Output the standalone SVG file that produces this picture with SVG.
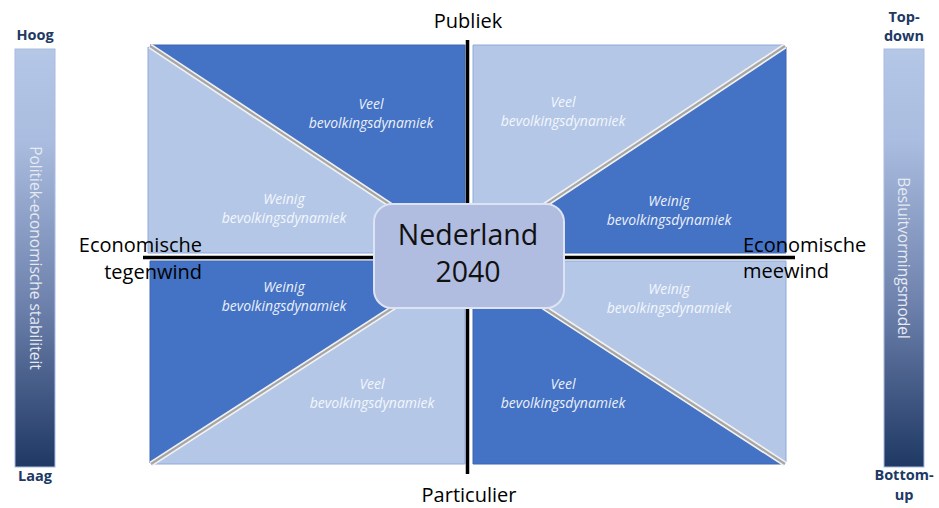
<svg xmlns="http://www.w3.org/2000/svg" width="939" height="508" viewBox="0 0 939 508">
<defs>
<linearGradient id="barGrad" x1="0" y1="0" x2="0" y2="1">
<stop offset="0" stop-color="#B4C7E7"/>
<stop offset="0.22" stop-color="#AABCDF"/>
<stop offset="0.6" stop-color="#6F83AE"/>
<stop offset="1" stop-color="#1F3864"/>
</linearGradient>
<style>
.dark{fill:#4472C4;stroke:#3E67B2;stroke-width:1}
.light{fill:#B4C7E7;stroke:#8FAADC;stroke-width:1}
.diagW{stroke:#F2F2F2;stroke-width:5.5;stroke-linecap:butt}
.diagG{stroke:#A6A6A6;stroke-width:2.2}
.axis{stroke:#000;stroke-width:3.5}
.lbl{font-family:"Open Sans","Liberation Sans",sans-serif;font-size:20px;fill:#000}
.it{font-family:"Open Sans","Liberation Sans",sans-serif;font-size:14px;font-style:italic;text-anchor:middle}
.itD{fill:#EBF0F9}
.itL{fill:#F3F6FC}
.bar{fill:url(#barGrad);stroke:#A9BCE0;stroke-width:1}
.barLbl{font-family:"Open Sans","Liberation Sans",sans-serif;font-size:14.5px;font-weight:bold;fill:#203864;text-anchor:middle}
.barTxt{font-family:"Open Sans","Liberation Sans",sans-serif;font-size:15.5px;fill:#E4E9F2;text-anchor:middle}
.node{fill:#B0BCE0;stroke:#DCE3F2;stroke-width:2}
.nodeTxt{font-family:"Open Sans","Liberation Sans",sans-serif;font-size:28.5px;fill:#111;text-anchor:middle}
</style>
</defs>
<rect width="939" height="508" fill="#FFFFFF"/>

<g id="scale-left">
<rect class="bar" x="15" y="49" width="40" height="418"/>
<text class="barLbl" x="35" y="40">Hoog</text>
<text class="barLbl" x="35" y="481">Laag</text>
<text class="barTxt" transform="translate(30,258) rotate(90)">Politiek-economische stabiliteit</text>
</g>

<g id="scale-right">
<rect class="bar" x="884" y="49" width="40" height="418"/>
<text class="barLbl" x="904" y="22">Top-</text>
<text class="barLbl" x="904" y="41">down</text>
<text class="barLbl" x="904" y="480">Bottom-</text>
<text class="barLbl" x="904" y="500">up</text>
<text class="barTxt" transform="translate(898,258) rotate(90)">Besluitvormingsmodel</text>
</g>

<g id="quadrant-tl">
<polygon class="light" points="148,47 148,253 465,253"/>
<polygon class="dark" points="150,45 465,45 465,253"/>
<line class="diagW" x1="150" y1="46" x2="463" y2="253"/>
<line class="diagG" x1="150" y1="46" x2="463" y2="253"/>
<text class="it itD" x="371" y="109">Veel</text>
<text class="it itD" x="371" y="128">bevolkingsdynamiek</text>
<text class="it itL" x="284" y="204">Weinig</text>
<text class="it itL" x="284" y="223">bevolkingsdynamiek</text>
</g>

<g id="quadrant-tr">
<polygon class="dark" points="786,47 786,253 473,253"/>
<polygon class="light" points="473,45 784,45 473,253"/>
<line class="diagW" x1="474" y1="252" x2="785" y2="46"/>
<line class="diagG" x1="474" y1="252" x2="785" y2="46"/>
<text class="it itL" x="563" y="107">Veel</text>
<text class="it itL" x="563" y="126">bevolkingsdynamiek</text>
<text class="it itD" x="669" y="206">Weinig</text>
<text class="it itD" x="669" y="225">bevolkingsdynamiek</text>
</g>

<g id="quadrant-bl">
<polygon class="light" points="465,261 465,464 151,464"/>
<polygon class="dark" points="150,261 465,261 150,463"/>
<line class="diagW" x1="464" y1="262" x2="151" y2="464"/>
<line class="diagG" x1="464" y1="262" x2="151" y2="464"/>
<text class="it itD" x="284" y="292">Weinig</text>
<text class="it itD" x="284" y="311">bevolkingsdynamiek</text>
<text class="it itL" x="372" y="389">Veel</text>
<text class="it itL" x="372" y="408">bevolkingsdynamiek</text>
</g>

<g id="quadrant-br">
<polygon class="dark" points="473,261 473,464 784,464"/>
<polygon class="light" points="473,261 786,261 786,462"/>
<line class="diagW" x1="474" y1="262" x2="785" y2="464"/>
<line class="diagG" x1="474" y1="262" x2="785" y2="464"/>
<text class="it itL" x="669" y="294">Weinig</text>
<text class="it itL" x="669" y="313">bevolkingsdynamiek</text>
<text class="it itD" x="563" y="389">Veel</text>
<text class="it itD" x="563" y="408">bevolkingsdynamiek</text>
</g>

<g id="connectors">
<line class="axis" x1="467.5" y1="40" x2="467.5" y2="474"/>
<line class="axis" x1="143" y1="257.5" x2="795" y2="257.5"/>
</g>

<g id="axis-labels">
<text class="lbl" x="468" y="28" text-anchor="middle">Publiek</text>
<text class="lbl" x="469" y="502" text-anchor="middle">Particulier</text>
<text class="lbl" x="202" y="252" text-anchor="end">Economische</text>
<text class="lbl" x="202" y="279" text-anchor="end">tegenwind</text>
<text class="lbl" x="743" y="252">Economische</text>
<text class="lbl" x="743" y="278">meewind</text>
</g>

<g id="node-center">
<rect class="node" x="374" y="204" width="190" height="104" rx="18"/>
<text class="nodeTxt" x="468" y="245">Nederland</text>
<text class="nodeTxt" x="468" y="282">2040</text>
</g>
</svg>
